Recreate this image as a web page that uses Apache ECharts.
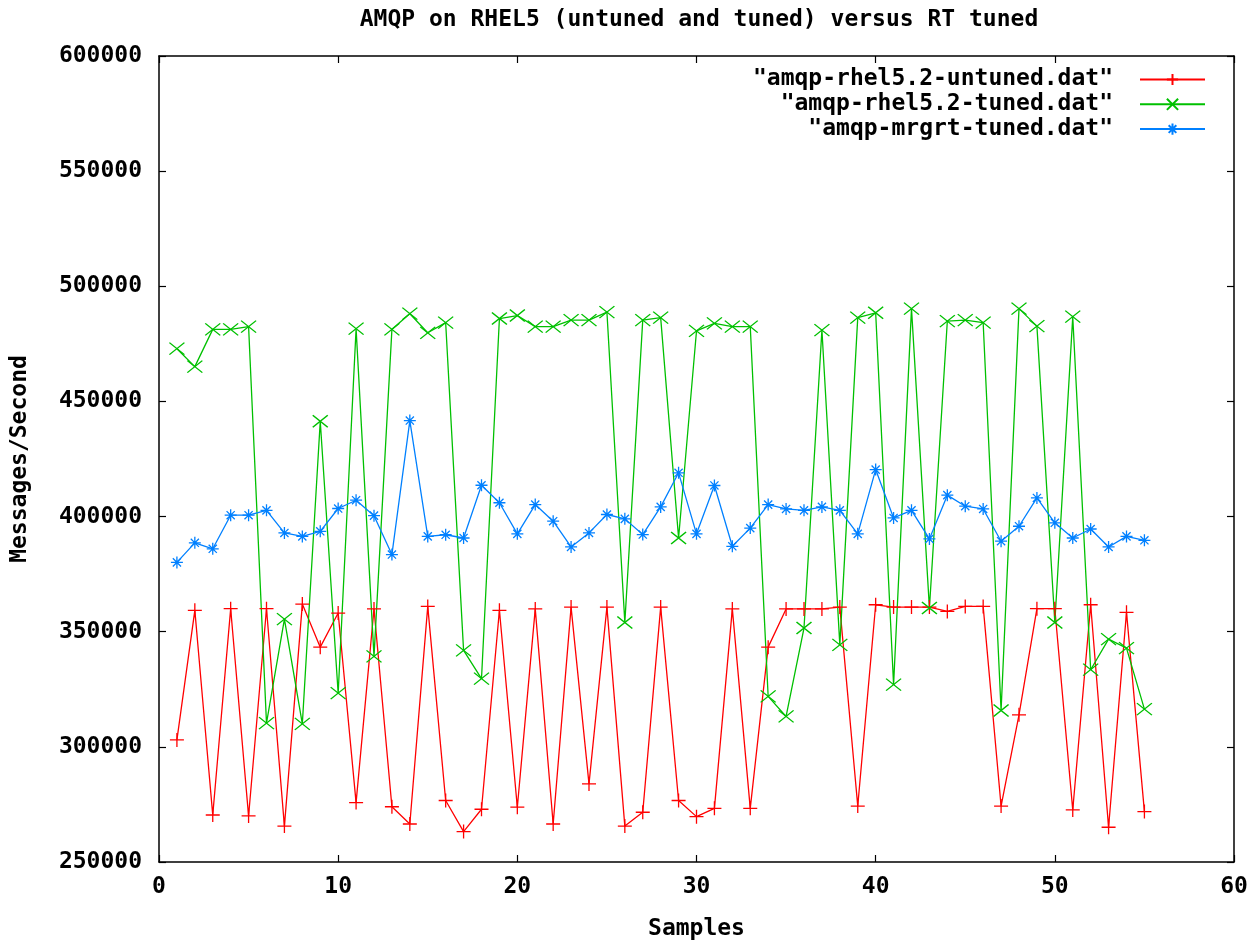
<!DOCTYPE html>
<html>
<head>
<meta charset="utf-8">
<script src="https://cdn.jsdelivr.net/npm/echarts@6/dist/echarts.min.js"></script>
<style>html,body{margin:0;padding:0;background:#fff}#c{width:1253px;height:940px}</style>
</head>
<body>
<div id="c"></div>
<script>
const seriesNames = ['"amqp-rhel5.2-untuned.dat"', '"amqp-rhel5.2-tuned.dat"', '"amqp-mrgrt-tuned.dat"'];
const untuned = [303000,359300,270400,360000,270000,360000,265600,362000,343300,358100,275800,359900,274000,266500,361000,276700,263200,272900,359300,273800,359900,266500,360700,283900,360700,265600,271600,360700,276700,269700,273300,359900,273300,343300,359900,359900,359900,360700,274300,361700,360700,360700,360700,358800,361000,361000,274300,313900,360000,360000,272600,361700,265100,358400,271900];
const tuned = [472900,465100,481300,481300,482500,310300,355500,310000,441400,323300,481600,339300,481300,488100,479800,484200,341900,329600,486000,487300,482500,482500,485300,485300,488800,354000,485300,486400,390700,480600,483900,482500,482500,321900,313200,351600,481000,344300,486400,488500,327000,490300,360300,484900,485300,484200,315800,490300,482700,354000,486800,333500,346800,342900,316400];
const mrgrt = [380100,388600,386000,400600,400600,402700,392900,391400,393600,403500,407100,400400,383500,441700,391400,392100,390700,413600,406000,392500,405200,398000,386800,392900,400900,399000,392200,404200,419000,392500,413500,387100,395000,405200,403300,402700,404200,402700,392500,420400,399400,402700,390300,409300,404500,403300,389300,395800,408100,397300,390700,394600,386800,391400,389700];
const xTicks = {min: 0, max: 60, interval: 10};
const yTicks = {min: 250000, max: 600000, interval: 50000};

const FONT = 'DejaVu Sans Mono';
const colors = ['#ff0000', '#00c000', '#0080ff'];
const symbols = [
  'path://M0,5H10M5,0V10',
  'path://M0,0L10,10M10,0L0,10',
  'path://M0,5H10M5,0V10M1.6,1.6L8.4,8.4M8.4,1.6L1.6,8.4'
];
const symSizes = [[14,14],[15,12],[12,12]];
const datasets = [untuned, tuned, mrgrt];

const toPairs = arr => arr.map((v, i) => [i + 1, v]);

const txt = {color: '#000', fontFamily: FONT, fontWeight: 'bold', fontSize: 23};

const axisCommon = {
  axisLine: {show: true, onZero: false, lineStyle: {color: '#000', width: 1.5}},
  axisTick: {show: true, inside: true, length: 7, lineStyle: {color: '#000', width: 1.2}},
  splitLine: {show: false}
};

const option = {
  animation: false,
  backgroundColor: '#fff',
  title: {
    text: 'AMQP on RHEL5 (untuned and tuned) versus RT tuned',
    left: 694, top: 4, textAlign: 'center',
    textStyle: Object.assign({}, txt)
  },
  grid: {left: 159, right: 19, top: 56, bottom: 78, containLabel: false, outerBoundsMode: 'none'},
  legend: seriesNames.map((n, i) => ({
    data: [n], right: 42, top: 63 + i * 24.8, align: 'right',
    itemWidth: 65, itemHeight: 14, itemGap: 0,
    textStyle: Object.assign({}, txt, {padding: [0, 22, 0, 0]})
  })),
  xAxis: [
    Object.assign({}, axisCommon, {
      type: 'value', min: xTicks.min, max: xTicks.max, interval: xTicks.interval,
      position: 'bottom', name: 'Samples', nameLocation: 'middle', nameGap: 56,
      nameTextStyle: Object.assign({}, txt),
      axisLabel: Object.assign({}, txt, {margin: 14, formatter: v => String(v)})
    }),
    Object.assign({}, axisCommon, {
      type: 'value', min: xTicks.min, max: xTicks.max, interval: xTicks.interval,
      position: 'top', axisLabel: {show: false}
    })
  ],
  yAxis: [
    Object.assign({}, axisCommon, {
      type: 'value', min: yTicks.min, max: yTicks.max, interval: yTicks.interval,
      position: 'left', name: 'Messages/Second', nameLocation: 'middle', nameGap: 127,
      nameTextStyle: Object.assign({}, txt),
      axisLabel: Object.assign({}, txt, {margin: 17, formatter: v => String(v)})
    }),
    Object.assign({}, axisCommon, {
      type: 'value', min: yTicks.min, max: yTicks.max, interval: yTicks.interval,
      position: 'right', axisLabel: {show: false}
    })
  ],
  series: datasets.map((d, i) => ({
    name: seriesNames[i],
    type: 'line',
    data: toPairs(d),
    symbol: symbols[i],
    symbolSize: symSizes[i],
    showAllSymbol: true,
    lineStyle: {color: colors[i], width: 1.3},
    itemStyle: {color: colors[i], borderColor: colors[i], borderWidth: 1.3},
    emphasis: {disabled: true}
  }))
};

const chart = echarts.init(document.getElementById('c'), null, {renderer: 'canvas'});
chart.setOption(option);
</script>
</body>
</html>
